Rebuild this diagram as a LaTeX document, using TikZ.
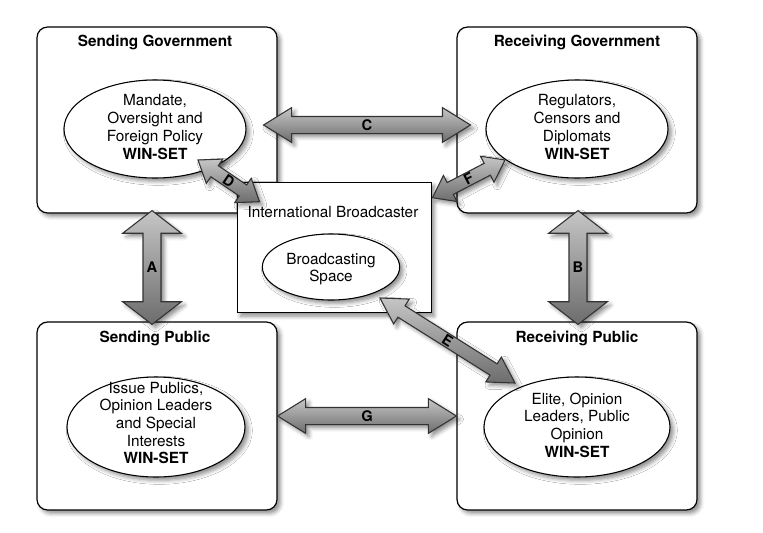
\documentclass[tikz,border=0pt]{standalone}
\usepackage{fontspec}
\setmainfont{TeX Gyre Heros}
\usetikzlibrary{shapes.geometric,calc,shadows.blur}

\tikzset{
  soft/.style={blur shadow={shadow xshift=2.5pt, shadow yshift=-2.5pt, shadow blur radius=3pt, shadow opacity=45}},
  realm/.style={draw, line width=0.9pt, fill=white, rounded corners=8pt, soft, minimum width=180pt, minimum height=139.5pt},
  hub/.style={draw, line width=0.7pt, fill=white, soft, minimum width=145.5pt, minimum height=98pt},
  winset/.style={ellipse, draw, line width=0.8pt, fill=white, soft, inner sep=0pt, minimum width=136.5pt, minimum height=73.5pt},
  caption/.style={font=\fontsize{11.5}{13.3}\selectfont\bfseries},
  plain/.style={font=\fontsize{11.5}{13.3}\selectfont, align=center, inner sep=0pt},
  link/.style={draw=black!80, line width=0.8pt, top color=gray!45, bottom color=gray!85!black, soft},
  tag/.style={font=\fontsize{11}{13}\selectfont\bfseries, inner sep=0pt}
}

% two-way block arrow: ends, shaft half width, head half width, head length, label options, label
\newcommand{\wayarrow}[7]{%
  \filldraw[link] (#1) -- ($(#1)!#5!(#2)!#4!90:(#2)$) -- ($(#1)!#5!(#2)!#3!90:(#2)$)
    -- ($(#2)!#5!(#1)!#3!-90:(#1)$) -- ($(#2)!#5!(#1)!#4!-90:(#1)$) -- (#2)
    -- ($(#2)!#5!(#1)!#4!90:(#1)$) -- ($(#2)!#5!(#1)!#3!90:(#1)$)
    -- ($(#1)!#5!(#2)!#3!-90:(#2)$) -- ($(#1)!#5!(#2)!#4!-90:(#2)$) -- cycle;
  \path (#1) -- (#2) node[tag, midway, #6] {#7};
}

\begin{document}
\begin{tikzpicture}[x=0.75pt,y=-0.75pt]
\useasboundingbox (0,0) rectangle (763,532);

% the four parties
\node[realm] (sgov) at (157,120) {};
\node[realm] (rgov) at (577,120) {};
\node[realm, minimum height=141pt] (spub) at (157,416) {};
\node[realm, minimum height=141pt] (rpub) at (577,416) {};
\node[caption] (sgovtitle) at (155,42) {Sending Government};
\node[caption] (rgovtitle) at (577,42) {Receiving Government};
\node[caption] (spubtitle) at (155,338) {Sending Public};
\node[caption] (rpubtitle) at (577,338) {Receiving Public};

% broadcaster in the middle
\node[hub] (ib) at (334,247.5) {};
\node[plain] (ibtitle) at (333,212) {International Broadcaster};

% win-sets
\node[winset] (sgovset) at (155,129) {};
\node[winset] (rgovset) at (577,129) {};
\node[winset, minimum width=133.5pt, minimum height=75pt] (spubset) at (156,427) {};
\node[winset, minimum width=139.5pt, minimum height=75pt] (rpubset) at (577,427) {};
\node[winset, minimum width=103pt, minimum height=49.5pt] (space) at (331,267) {};
\node[plain] (sgovtext) at ($(sgovset)+(0,-2)$) {Mandate,\\Oversight and\\Foreign Policy\\\textbf{WIN-SET}};
\node[plain] (rgovtext) at ($(rgovset)+(0,-2)$) {Regulators,\\Censors and\\Diplomats\\\textbf{WIN-SET}};
\node[plain] (spubtext) at ($(spubset)+(0,-4)$) {Issue Publics,\\Opinion Leaders\\and Special\\Interests\\\textbf{WIN-SET}};
\node[plain] (rpubtext) at ($(rpubset)+(0,-2)$) {Elite, Opinion\\Leaders, Public\\Opinion\\\textbf{WIN-SET}};
\node[plain] (spacetext) at ($(space)+(0,2)$) {Broadcasting\\Space};

% arrow ends
\coordinate (a1) at ($(sgov.south)+(-5,-3)$);
\coordinate (a2) at ($(spub.north)+(-5,3)$);
\coordinate (b1) at ($(rgov.south)+(1,-3)$);
\coordinate (b2) at ($(rpub.north)+(1,3)$);
\coordinate (c1) at ($(sgovset.east)+(17,-4)$);
\coordinate (c2) at ($(rgovset.west)+(-15,-4)$);
\coordinate (d1) at ($(sgovset)+(43,31)$);
\coordinate (d2) at ($(ib.north west)+(23,20)$);
\coordinate (e1) at ($(space)+(49,31)$);
\coordinate (e2) at ($(rpubset)+(-62,-44)$);
\coordinate (f1) at ($(ib.north east)+(1,16)$);
\coordinate (f2) at ($(rgovset)+(-72,31)$);

% two-way links
\wayarrow{a1}{a2}{6.75pt}{22pt}{17pt}{}{A}
\wayarrow{b1}{b2}{6.75pt}{22pt}{17pt}{}{B}
\wayarrow{c1}{c2}{6.4pt}{13pt}{21pt}{}{C}
\wayarrow{spub.east}{rpub.west}{6.4pt}{13pt}{21pt}{}{G}
\wayarrow{d1}{d2}{5pt}{11pt}{15pt}{sloped}{D}
\wayarrow{f1}{f2}{5pt}{11pt}{15pt}{sloped}{F}
\wayarrow{e1}{e2}{5pt}{11pt}{19pt}{sloped}{E}

\end{tikzpicture}
\end{document}
